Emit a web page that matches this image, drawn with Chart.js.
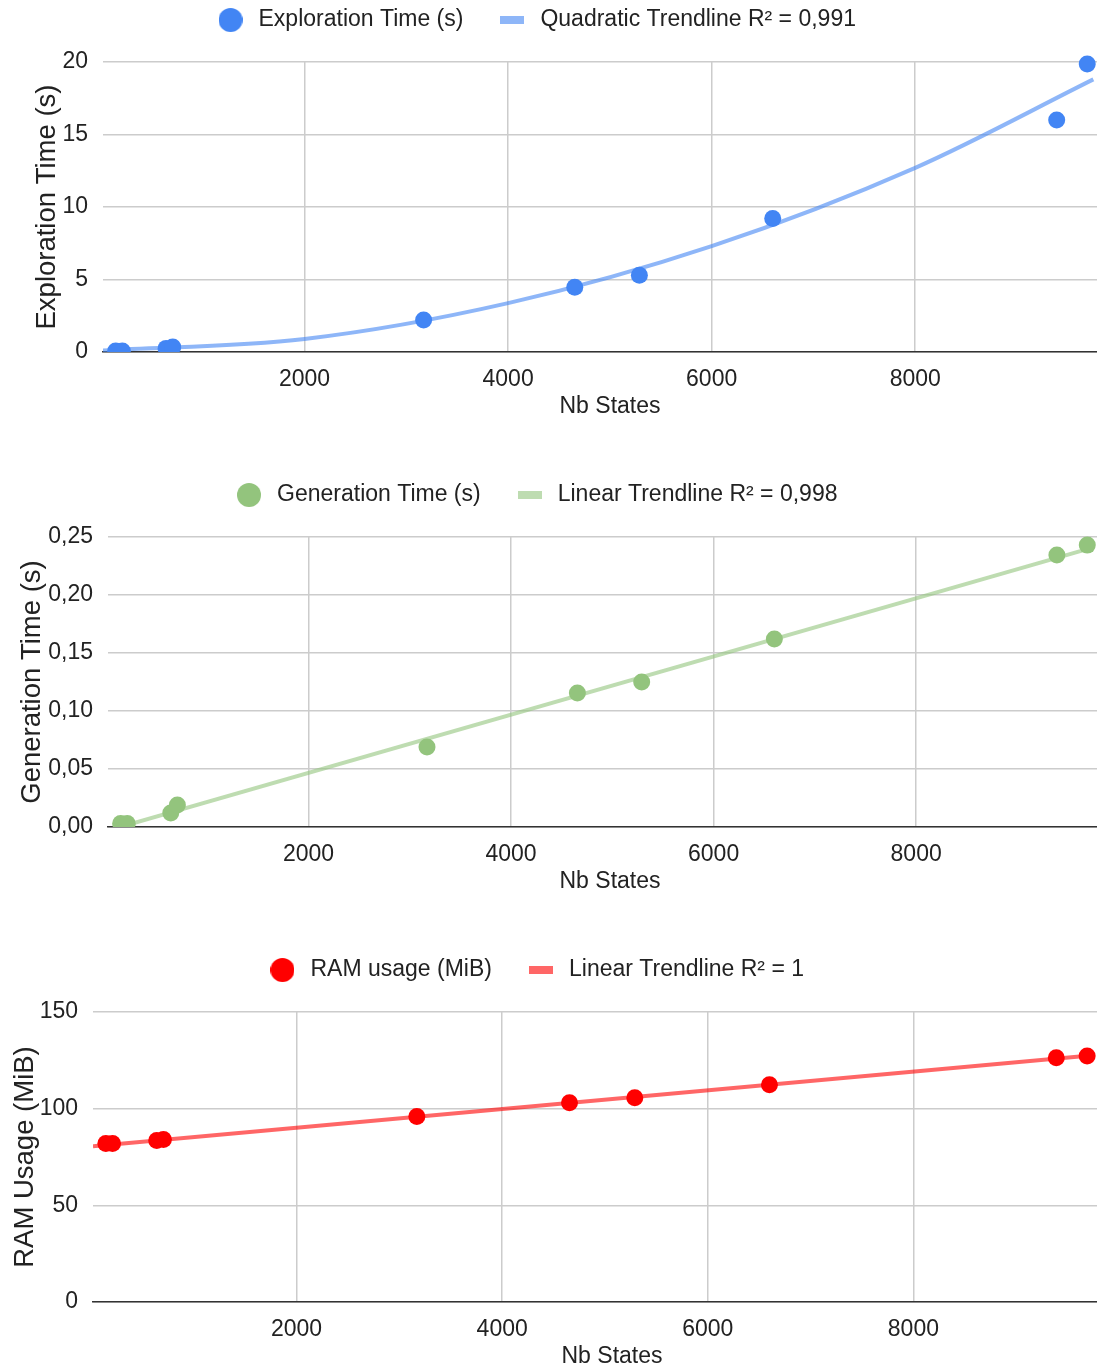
<!DOCTYPE html>
<html>
<head>
<meta charset="utf-8">
<script src="https://cdn.jsdelivr.net/npm/chart.js@4.4.1/dist/chart.umd.min.js"></script>
<style>
  html, body { margin: 0; padding: 0; background: #fff; overflow: hidden; }
  .panel { position: absolute; left: 0; width: 1097px; height: 420px; }
</style>
</head>
<body>
<div class="panel" style="top:0px"><canvas id="explorationChart" width="1097" height="420"></canvas></div>
<div class="panel" style="top:475px"><canvas id="generationChart" width="1097" height="420"></canvas></div>
<div class="panel" style="top:950px"><canvas id="ramChart" width="1097" height="420"></canvas></div>
<script>
// values
const nbStates = [145, 210, 640, 705, 3170, 4655, 5290, 6600, 9390, 9690];
const explorationTime = [0.07, 0.07, 0.25, 0.35, 2.2, 4.47, 5.29, 9.21, 16.0, 19.86];
const generationTime = [0.003, 0.003, 0.012, 0.019, 0.069, 0.1155, 0.125, 0.162, 0.2345, 0.243];
const ramUsage = [82.0, 82.0, 83.5, 84.0, 95.9, 103.1, 105.7, 112.4, 126.3, 127.3];

// trendlines as drawn in the picture
const explorationTrendX = [20, 2000, 4000, 6000, 8000, 9750];
const explorationTrendY = [0.1, 0.9, 3.37, 7.3, 12.7, 18.8];
const generationTrendX = [20, 9750];
const generationTrendY = [-0.003, 0.241];
const ramTrendX = [20, 9750];
const ramTrendY = [80.6, 127.6];

const xTicks = [2000, 4000, 6000, 8000];

Chart.defaults.font.family = "'Liberation Sans', Arial, sans-serif";
Chart.defaults.color = '#222';

const toPoints = (xs, ys) => xs.map((x, i) => ({ x, y: ys[i] }));

const circleMarker = (color) => {
  const c = document.createElement('canvas');
  c.width = 24;
  c.height = 24;
  const g = c.getContext('2d');
  g.fillStyle = color;
  g.beginPath();
  g.arc(12, 12, 12, 0, Math.PI * 2);
  g.fill();
  return c;
};

const barMarker = (color) => {
  const c = document.createElement('canvas');
  c.width = 24;
  c.height = 8;
  const g = c.getContext('2d');
  g.fillStyle = color;
  g.fillRect(0, 0, 24, 8);
  return c;
};

// google-style placement: legend a bit left of centre, x title a bit right
const placement = {
  id: 'placement',
  afterLayout(chart, args, opts) {
    const lg = chart.legend;
    lg.left -= 13.5;
    lg.right -= 13.5;
    lg.top -= 24;
    lg.bottom -= 24;

    const sx = chart.scales.x;
    const shift = opts.titleCenter - (sx.left + sx.right) / 2;
    sx.drawTitle = function drawShiftedTitle() {
      const l = this.left;
      const r = this.right;
      this.left = l + shift;
      this.right = r + shift;
      Chart.Scale.prototype.drawTitle.call(this);
      this.left = l;
      this.right = r;
    };
  },
};

const makeChart = (id, cfg) => {
  const dotImg = circleMarker(cfg.pointColor);
  const barImg = barMarker(cfg.trendColor);
  return new Chart(document.getElementById(id), {
    type: 'scatter',
    data: {
      datasets: [
        {
          label: cfg.pointLabel,
          data: cfg.points,
          backgroundColor: cfg.pointColor,
          borderWidth: 0,
          pointRadius: 8.5,
          pointHoverRadius: 8.5,
          clip: { left: false, top: false, right: false, bottom: 0 },
        },
        {
          type: 'line',
          label: cfg.trendLabel,
          data: cfg.trend,
          borderColor: cfg.trendColor,
          backgroundColor: cfg.trendColor,
          borderWidth: 4,
          pointRadius: 0,
          fill: false,
          cubicInterpolationMode: 'monotone',
          clip: 0,
        },
      ],
    },
    options: {
      responsive: false,
      animation: false,
      devicePixelRatio: 1,
      events: [],
      layout: { padding: 0, autoPadding: false },
      plugins: {
        placement: { titleCenter: cfg.xTitleCenter },
        tooltip: { enabled: false },
        legend: {
          position: 'top',
          maxHeight: 62,
          labels: {
            usePointStyle: true,
            pointStyleWidth: 33,
            padding: 32.5,
            font: { size: 23 },
            color: '#222',
            generateLabels(chart) {
              const items = Chart.defaults.plugins.legend.labels.generateLabels(chart);
              items[0].pointStyle = dotImg;
              items[1].pointStyle = barImg;
              return items;
            },
          },
        },
      },
      scales: {
        x: {
          type: 'linear',
          min: 20,
          max: 9786,
          afterBuildTicks(scale) {
            scale.ticks = xTicks.map((v) => ({ value: v }));
          },
          ticks: {
            padding: 14,
            font: { size: 23 },
            color: '#222',
            callback: (v) => String(v),
          },
          grid: { color: '#cccccc', lineWidth: 1.5, drawTicks: false },
          border: { color: '#333333', width: 1.5 },
          title: {
            display: true,
            text: 'Nb States',
            font: { size: 23 },
            color: '#222',
            padding: { top: 0, bottom: 0 },
          },
          afterFit(scale) {
            scale.height = 68;
            scale.paddingLeft = 0;
            scale.paddingRight = 0;
          },
        },
        y: {
          min: cfg.yMin,
          max: cfg.yMax,
          ticks: {
            stepSize: cfg.yStep,
            padding: 15,
            font: { size: 23 },
            color: '#222',
            callback: cfg.yFormat,
          },
          grid: { color: '#cccccc', lineWidth: 1.5, drawTicks: false },
          border: { display: false },
          title: {
            display: true,
            text: cfg.yTitle,
            font: { size: 27.5 },
            color: '#222',
            padding: { top: cfg.yTitlePad, bottom: 0 },
          },
          afterFit(scale) {
            scale.width = cfg.yWidth;
          },
        },
      },
    },
    plugins: [placement],
  });
};

makeChart('explorationChart', {
  pointLabel: 'Exploration Time (s)',
  trendLabel: 'Quadratic Trendline R² = 0,991',
  pointColor: '#4285f4',
  trendColor: 'rgba(66, 133, 244, 0.6)',
  points: toPoints(nbStates, explorationTime),
  trend: toPoints(explorationTrendX, explorationTrendY),
  yMin: 0,
  yMax: 20,
  yStep: 5,
  yFormat: (v) => String(v),
  yTitle: 'Exploration Time (s)',
  yTitlePad: 31,
  yWidth: 103,
  xTitleCenter: 610,
});

makeChart('generationChart', {
  pointLabel: 'Generation Time (s)',
  trendLabel: 'Linear Trendline R² = 0,998',
  pointColor: '#93c47d',
  trendColor: 'rgba(147, 196, 125, 0.6)',
  points: toPoints(nbStates, generationTime),
  trend: toPoints(generationTrendX, generationTrendY),
  yMin: 0,
  yMax: 0.25,
  yStep: 0.05,
  yFormat: (v) => v.toFixed(2).replace('.', ','),
  yTitle: 'Generation Time (s)',
  yTitlePad: 16,
  yWidth: 108,
  xTitleCenter: 610,
});

makeChart('ramChart', {
  pointLabel: 'RAM usage (MiB)',
  trendLabel: 'Linear Trendline R² = 1',
  pointColor: '#ff0000',
  trendColor: 'rgba(255, 0, 0, 0.6)',
  points: toPoints(nbStates, ramUsage),
  trend: toPoints(ramTrendX, ramTrendY),
  yMin: 0,
  yMax: 150,
  yStep: 50,
  yFormat: (v) => String(v),
  yTitle: 'RAM Usage (MiB)',
  yTitlePad: 9,
  yWidth: 93,
  xTitleCenter: 612,
});
</script>
</body>
</html>
